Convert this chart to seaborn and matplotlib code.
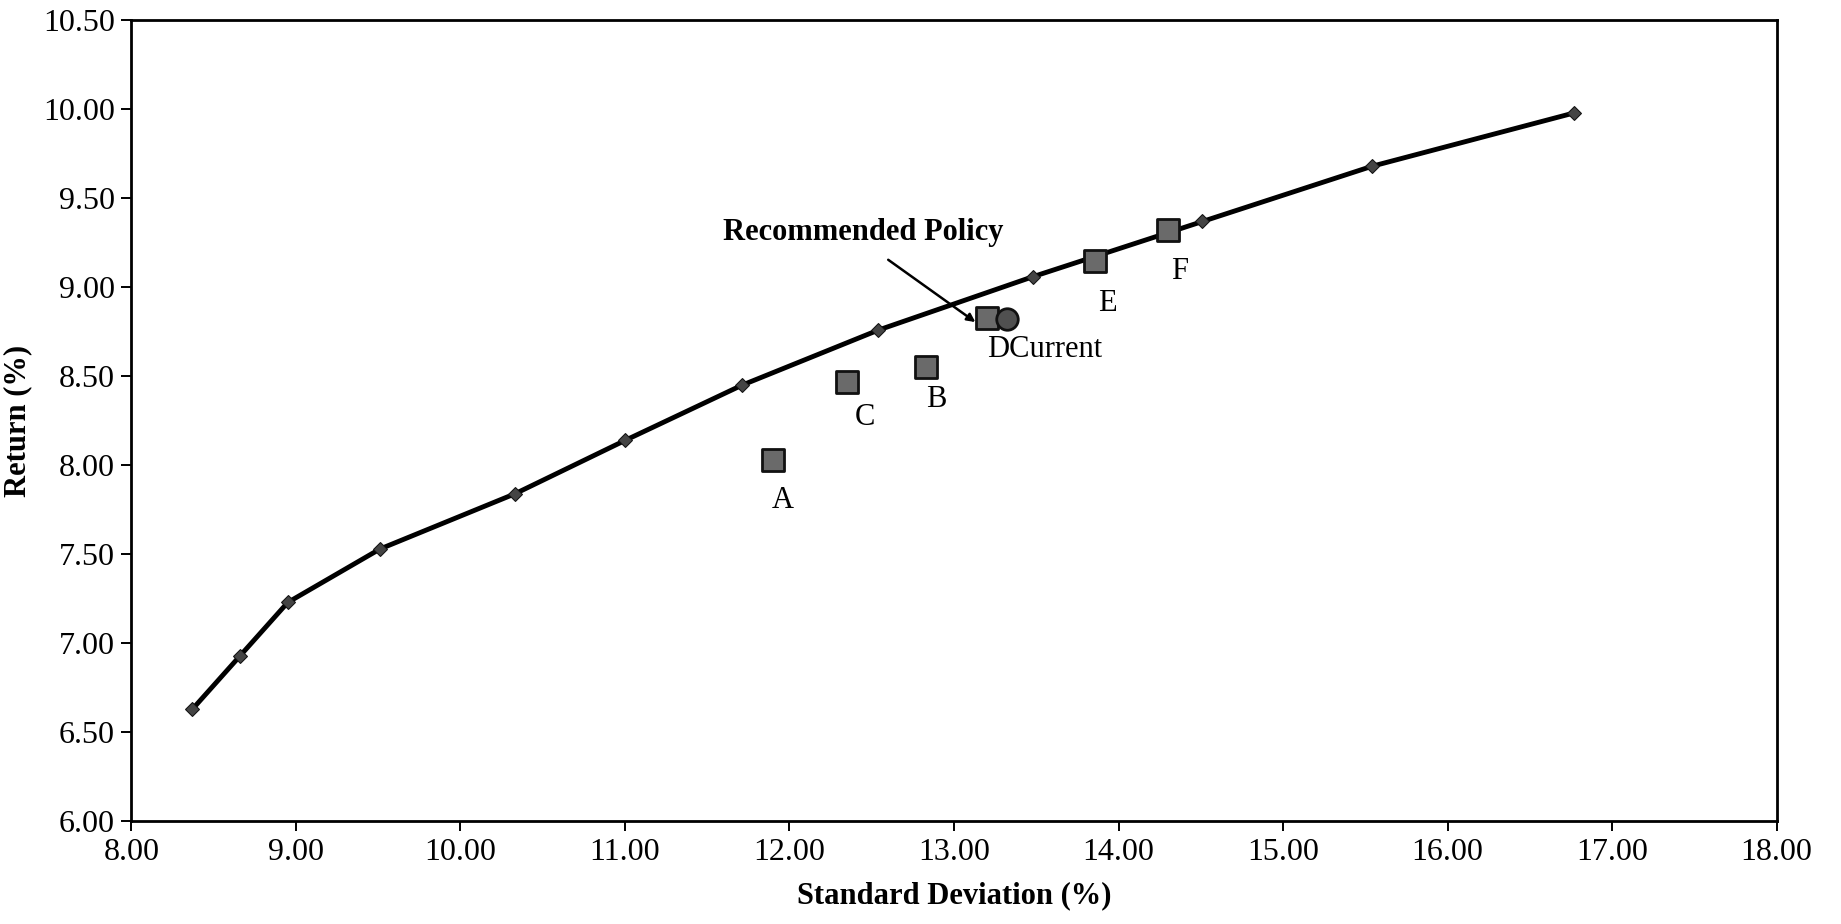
import matplotlib
matplotlib.use("Agg")
import matplotlib.pyplot as plt
import seaborn as sns
import pandas as pd

# Efficient frontier
frontier_sd = [8.37, 8.66, 8.95, 9.51, 10.33, 11.00, 11.71, 12.54, 13.48, 14.51, 15.54, 16.77]
frontier_ret = [6.63, 6.93, 7.23, 7.53, 7.84, 8.14, 8.45, 8.76, 9.06, 9.37, 9.68, 9.98]

# Policy portfolios
policy_names = ["A", "C", "B", "D", "E", "F"]
policy_sd = [11.90, 12.35, 12.83, 13.20, 13.86, 14.30]
policy_ret = [8.03, 8.47, 8.55, 8.83, 9.15, 9.32]

# Current portfolio
current_sd = [13.32]
current_ret = [8.82]

x_ticks = [8, 9, 10, 11, 12, 13, 14, 15, 16, 17, 18]
y_ticks = [6.0, 6.5, 7.0, 7.5, 8.0, 8.5, 9.0, 9.5, 10.0, 10.5]

sns.set_style("white")
plt.rcParams["font.family"] = ["Liberation Serif", "DejaVu Serif"]
plt.rcParams["text.color"] = "black"
plt.rcParams["axes.labelcolor"] = "black"

fig = plt.figure(figsize=(18.41, 9.24), dpi=100)
ax = fig.add_axes([0.0714, 0.111, 0.8936, 0.867])

front = pd.DataFrame({"sd": frontier_sd, "ret": frontier_ret})
sns.lineplot(data=front, x="sd", y="ret", ax=ax, color="black", linewidth=3.5,
             marker="D", markersize=7.5, markerfacecolor="#444444",
             markeredgecolor="#111111", sort=False)

pol = pd.DataFrame({"sd": policy_sd, "ret": policy_ret, "name": policy_names})
sns.scatterplot(data=pol, x="sd", y="ret", ax=ax, marker="s", s=250,
                color="#6a6a6a", edgecolor="#111111", linewidth=2, zorder=5)
cur = pd.DataFrame({"sd": current_sd, "ret": current_ret})
sns.scatterplot(data=cur, x="sd", y="ret", ax=ax, marker="o", s=240,
                color="#505050", edgecolor="#111111", linewidth=2, zorder=5)

# labels (offset from each marker)
offsets = {"A": (0.06, -0.23), "C": (0.11, -0.20), "B": (0.06, -0.18),
           "E": (0.07, -0.24), "F": (0.07, -0.23)}
for n, xs, ys in zip(policy_names, policy_sd, policy_ret):
    if n in offsets:
        dx, dy = offsets[n]
        ax.text(xs + dx, ys + dy, n, fontsize=22, ha="center", va="center")
ax.text(policy_sd[3], policy_ret[3] - 0.18, "DCurrent", fontsize=22,
        ha="left", va="center")

ax.text(12.45, 9.31, "Recommended Policy", fontsize=22, fontweight="bold",
        ha="center", va="center")
ax.annotate("", xy=(13.13, 8.805), xytext=(12.60, 9.155),
            arrowprops=dict(arrowstyle="-|>", color="black", lw=1.8,
                            shrinkA=0, shrinkB=0, mutation_scale=12),
            zorder=6)

ax.set_xlim(8, 18)
ax.set_ylim(6, 10.5)
ax.set_xticks(x_ticks)
ax.set_yticks(y_ticks)
ax.set_xticklabels([f"{v:.2f}" for v in x_ticks])
ax.set_yticklabels([f"{v:.2f}" for v in y_ticks])
ax.tick_params(axis="both", labelsize=23, length=7, width=1.4, direction="out",
               colors="black", bottom=True, left=True, pad=5)
ax.set_xlabel("Standard Deviation (%)", fontsize=22, fontweight="bold", labelpad=10)
ax.set_ylabel("Return (%)", fontsize=22, fontweight="bold", labelpad=8)
for s in ax.spines.values():
    s.set_color("black")
    s.set_linewidth(2)
ax.grid(False)

fig.savefig("out.png", dpi=100)
